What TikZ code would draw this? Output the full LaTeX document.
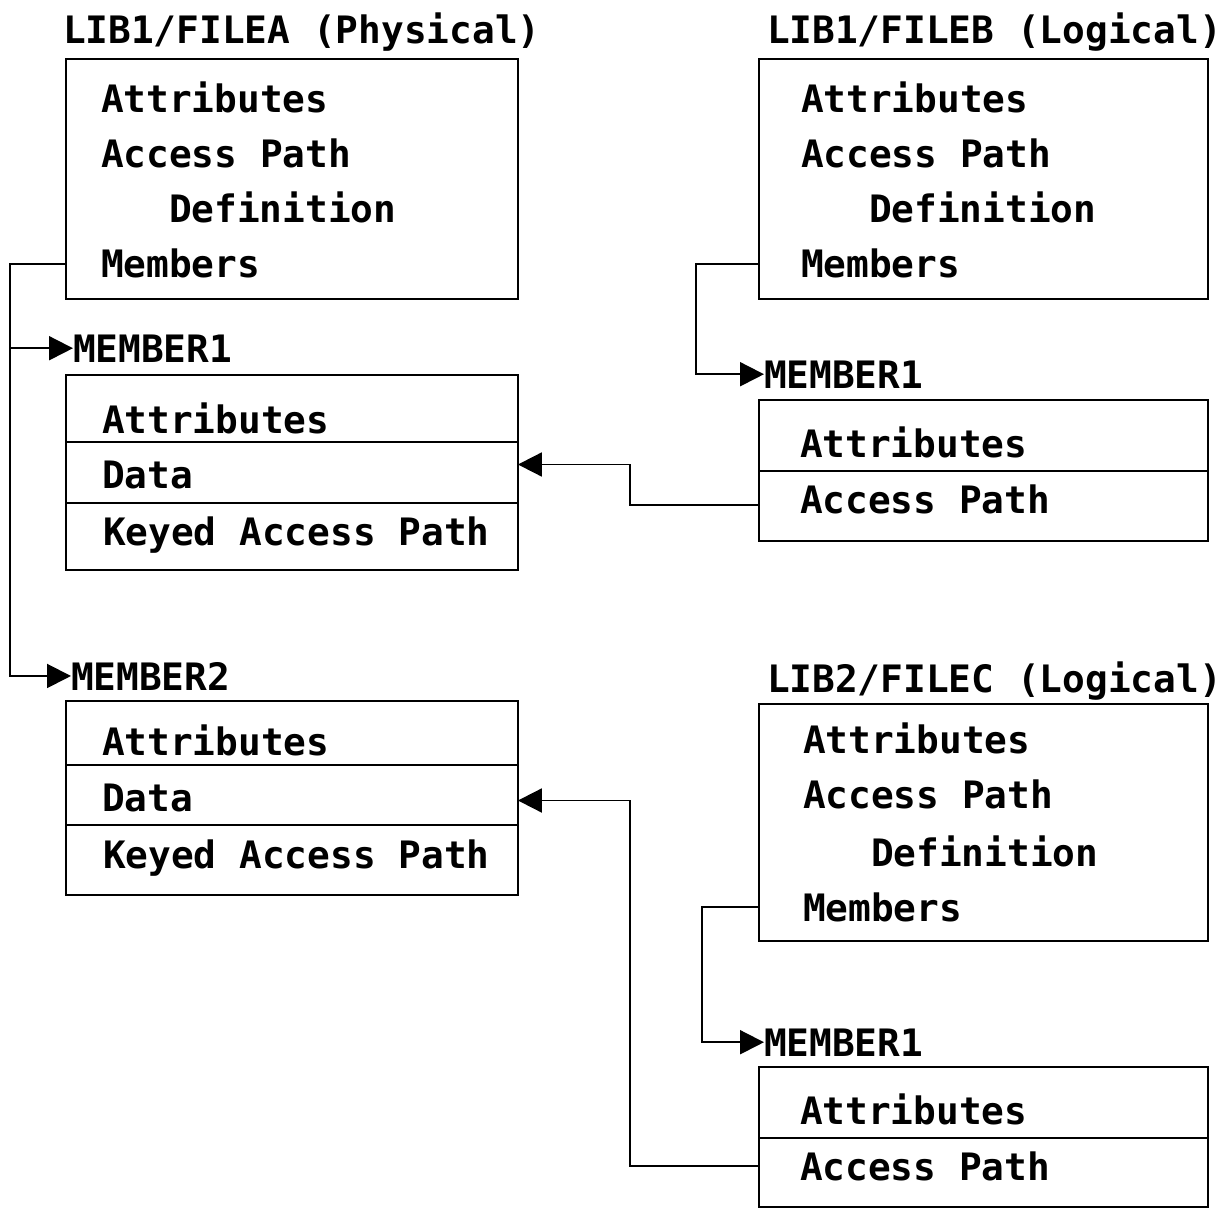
\documentclass[tikz,border=0pt]{standalone}
\usepackage{fontspec}
\newfontfamily\termfont{DejaVu Sans Mono}
\usetikzlibrary{arrows.meta,positioning,calc}

\begin{document}
\begin{tikzpicture}[x=0.02cm, y=-0.02cm, line width=1.1pt,
  file box/.style={draw,rectangle,anchor=north west,inner sep=0pt,outer sep=0pt},
  entry/.style={anchor=base west,inner sep=0pt,outer sep=0pt,font=\termfont\bfseries\fontsize{21.5}{25}\selectfont},
  link/.style={-{Triangle[length=0.48cm,width=0.48cm]}}]
\useasboundingbox (0,0) rectangle (1223,1209);
\begin{scope}
% LIB1/FILEA
\node[entry] (fatitle) at (63,44) {LIB1/FILEA (Physical)};
\node[file box,minimum width=9.04cm,minimum height=4.8cm] (fa) at (66,59) {};
\node[entry] (faattr) at (101,113) {Attributes};
\node[entry] (faacc) at (101,168) {Access Path};
\node[entry] (fadef) at (169,223) {Definition};
\node[entry] (famem) at (101,278) {Members};
\node[entry] (fam1lbl) at (73,362) {MEMBER1};
\node[file box,minimum width=9.04cm,minimum height=3.9cm] (fam1) at (66,375) {};
\node[entry] (fam1attr) at (102,433) {Attributes};
\node[entry] (fam1data) at (102,488) {Data};
\node[entry] (fam1key) at (103,545) {Keyed Access Path};
\node[entry] (fam2lbl) at (71,690) {MEMBER2};
\node[file box,minimum width=9.04cm,minimum height=3.88cm] (fam2) at (66,701) {};
\node[entry] (fam2attr) at (102,755) {Attributes};
\node[entry] (fam2data) at (102,811) {Data};
\node[entry] (fam2key) at (103,868) {Keyed Access Path};
% LIB1/FILEB
\node[entry] (fbtitle) at (767,44) {LIB1/FILEB (Logical)};
\node[file box,minimum width=8.98cm,minimum height=4.8cm] (fb) at (759,59) {};
\node[entry] (fbattr) at (801,113) {Attributes};
\node[entry] (fbacc) at (801,168) {Access Path};
\node[entry] (fbdef) at (869,223) {Definition};
\node[entry] (fbmem) at (801,278) {Members};
\node[entry] (fbm1lbl) at (764,388) {MEMBER1};
\node[file box,minimum width=8.98cm,minimum height=2.82cm] (fbm1) at (759,400) {};
\node[entry] (fbm1attr) at (800,457) {Attributes};
\node[entry] (fbm1acc) at (800,513) {Access Path};
% LIB2/FILEC
\node[entry] (fctitle) at (767,692) {LIB2/FILEC (Logical)};
\node[file box,minimum width=8.98cm,minimum height=4.74cm] (fc) at (759,704) {};
\node[entry] (fcattr) at (803,753) {Attributes};
\node[entry] (fcacc) at (803,808) {Access Path};
\node[entry] (fcdef) at (871,866) {Definition};
\node[entry] (fcmem) at (803,921) {Members};
\node[entry] (fcm1lbl) at (764,1056) {MEMBER1};
\node[file box,minimum width=8.98cm,minimum height=2.8cm] (fcm1) at (759,1067) {};
\node[entry] (fcm1attr) at (800,1124) {Attributes};
\node[entry] (fcm1acc) at (800,1180) {Access Path};
\end{scope}
\begin{scope}
\draw (fam1.north west) ++(0,67) -- ++(452,0);
\draw (fam1.north west) ++(0,128) -- ++(452,0);
\draw (fam2.north west) ++(0,64) -- ++(452,0);
\draw (fam2.north west) ++(0,124) -- ++(452,0);
\draw (fbm1.north west) ++(0,71) -- ++(449,0);
\draw (fcm1.north west) ++(0,71) -- ++(449,0);
\end{scope}
\begin{scope}
\draw[link] (fa.west |- famem) -- ++(-56,0) |- (fam1lbl.west);
\draw[link] (fa.west |- famem) -- ++(-56,0) |- (fam2lbl.west);
\draw[link] (fb.west |- fbmem) -- ++(-63,0) |- (fbm1lbl.west);
\draw[link] (fc.west |- fcmem) -- ++(-57,0) |- (fcm1lbl.west);
\draw[link] ($(fbm1.west |- fbm1acc)+(0,6)$) -- ++(-129,0) |- ($(fam1.east |- fam1data)+(0,-10)$);
\draw[link] (fcm1.west |- fcm1acc) -- ++(-129,0) |- ($(fam2.east |- fam2data)+(0,3)$);
\end{scope}
\end{tikzpicture}
\end{document}
